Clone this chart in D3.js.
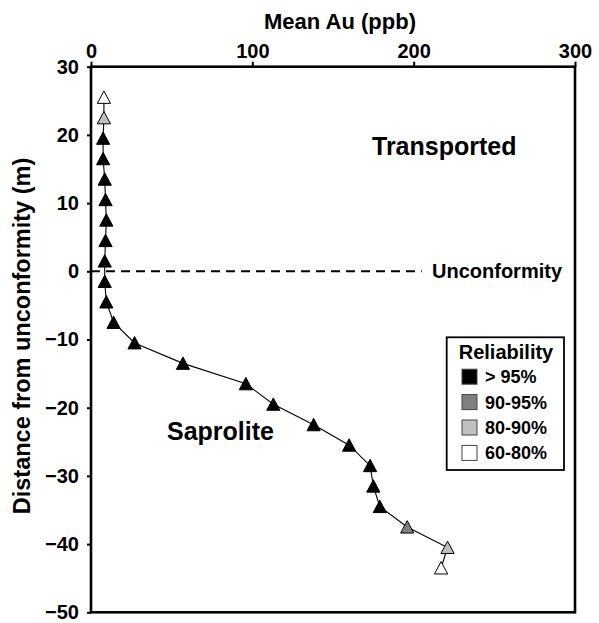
<!DOCTYPE html>
<html>
<head>
<meta charset="utf-8">
<script src="https://cdn.jsdelivr.net/npm/d3@7"></script>
<style>
  body { margin: 0; background: #fff; }
  svg { display: block; }
  text { font-family: "Liberation Sans", Arial, Helvetica, sans-serif; font-weight: bold; fill: #000; }
</style>
</head>
<body>
<svg id="chart" width="599" height="623"></svg>
<script>
// Sample depth (m relative to the unconformity), mean Au (ppb) and reliability class
const depth = [25.5, 22.5, 19.5, 16.5, 13.5, 10.5, 7.5, 4.5, 1.5, -1.5, -4.5, -7.5,
               -10.5, -13.5, -16.5, -19.5, -22.5, -25.5, -28.5, -31.5, -34.5, -37.5, -40.5, -43.5];
const meanAu = [8, 8, 7.5, 7.5, 8.5, 9, 9.5, 9, 8.5, 8.5, 9.5, 14,
                27, 57, 96, 113, 138, 160, 173, 175, 179, 196, 221, 217];
const reliability = ["60-80%", "80-90%", "> 95%", "> 95%", "> 95%", "> 95%", "> 95%", "> 95%",
                     "> 95%", "> 95%", "> 95%", "> 95%", "> 95%", "> 95%", "> 95%", "> 95%",
                     "> 95%", "> 95%", "> 95%", "> 95%", "> 95%", "90-95%", "80-90%", "60-80%"];

const classes = ["> 95%", "90-95%", "80-90%", "60-80%"];
const classFill = ["#000000", "#808080", "#c0c0c0", "#ffffff"];

const xTicks = [0, 100, 200, 300];
const yTicks = [30, 20, 10, 0, -10, -20, -30, -40, -50];

// Unconformity marker: depth and the Au value where the dashed line stops
const unconformityDepth = 0;
const unconformityLineEnd = 205;

const svg = d3.select("#chart");

const x = d3.scaleLinear().domain([0, 300]).range([91, 575]);
const y = d3.scaleLinear().domain([-50, 30]).range([612.3, 66.7]);
const fill = d3.scaleOrdinal().domain(classes).range(classFill);

// Plot frame
svg.append("rect")
  .attr("x", x(0)).attr("y", y(30))
  .attr("width", x(300) - x(0)).attr("height", y(-50) - y(30))
  .attr("fill", "none").attr("stroke", "#000").attr("stroke-width", 2.6);

// Top x axis
const xAxis = svg.append("g")
  .attr("transform", `translate(0,${y(30)})`)
  .call(d3.axisTop(x).tickValues(xTicks).tickSize(5).tickPadding(4).tickFormat(d3.format("d")));
xAxis.select(".domain").remove();
xAxis.selectAll(".tick line").attr("stroke", "#000").attr("stroke-width", 2);
xAxis.selectAll(".tick text").style("font-size", "20px").attr("fill", "#000");

// Left y axis
const yAxis = svg.append("g")
  .attr("transform", `translate(${x(0)},0)`)
  .call(d3.axisLeft(y).tickValues(yTicks).tickSize(4).tickPadding(8).tickFormat(d3.format("d")));
yAxis.select(".domain").remove();
yAxis.selectAll(".tick line").attr("stroke", "#000").attr("stroke-width", 2);
yAxis.selectAll(".tick text").style("font-size", "20px").attr("fill", "#000");

// Axis titles
svg.append("text")
  .attr("x", 340).attr("y", 29)
  .attr("text-anchor", "middle")
  .style("font-size", "22px")
  .text("Mean Au (ppb)");

svg.append("text")
  .attr("transform", "translate(30,336) rotate(-90)")
  .attr("text-anchor", "middle")
  .style("font-size", "23.5px")
  .text("Distance from unconformity (m)");

// Unconformity dashed line
svg.append("line")
  .attr("x1", x(0)).attr("x2", x(unconformityLineEnd))
  .attr("y1", y(unconformityDepth)).attr("y2", y(unconformityDepth))
  .attr("stroke", "#000").attr("stroke-width", 2)
  .attr("stroke-dasharray", "9,6");

svg.append("text")
  .attr("x", 432).attr("y", y(unconformityDepth) + 7)
  .style("font-size", "20px")
  .text("Unconformity");

// Zone labels
svg.append("text").attr("x", 372).attr("y", 155).style("font-size", "25px").text("Transported");
svg.append("text").attr("x", 167).attr("y", 440).style("font-size", "25px").text("Saprolite");

// Profile line
const samples = depth.map((d, i) => ({ depth: d, au: meanAu[i], rel: reliability[i] }));
svg.append("path")
  .datum(samples)
  .attr("fill", "none").attr("stroke", "#000").attr("stroke-width", 1.1)
  .attr("d", d3.line().x(d => x(d.au)).y(d => y(d.depth)));

// Triangle markers centred on their bounding box
const tri = "M0,-6.4L6.6,6L-6.6,6Z";
svg.append("g").selectAll("path")
  .data(samples)
  .join("path")
  .attr("transform", d => `translate(${x(d.au)},${y(d.depth)})`)
  .attr("d", tri)
  .attr("fill", d => fill(d.rel))
  .attr("stroke", "#000").attr("stroke-width", 1);

// Legend
const legend = svg.append("g");
legend.append("rect")
  .attr("x", 446.7).attr("y", 337.3).attr("width", 117.3).attr("height", 132.7)
  .attr("fill", "#fff").attr("stroke", "#000").attr("stroke-width", 1.8);
legend.append("text")
  .attr("x", 506).attr("y", 359)
  .attr("text-anchor", "middle")
  .style("font-size", "20px")
  .text("Reliability");
const rows = legend.selectAll("g.row")
  .data(classes)
  .join("g")
  .attr("class", "row")
  .attr("transform", (d, i) => `translate(462,${376.7 + i * 25.4})`);
rows.append("rect")
  .attr("x", 0).attr("y", -7.5).attr("width", 15).attr("height", 15)
  .attr("fill", d => fill(d)).attr("stroke", "#444").attr("stroke-width", 1);
rows.append("text")
  .attr("x", 23).attr("y", 6.5)
  .style("font-size", "18px")
  .text(d => d);
</script>
</body>
</html>
